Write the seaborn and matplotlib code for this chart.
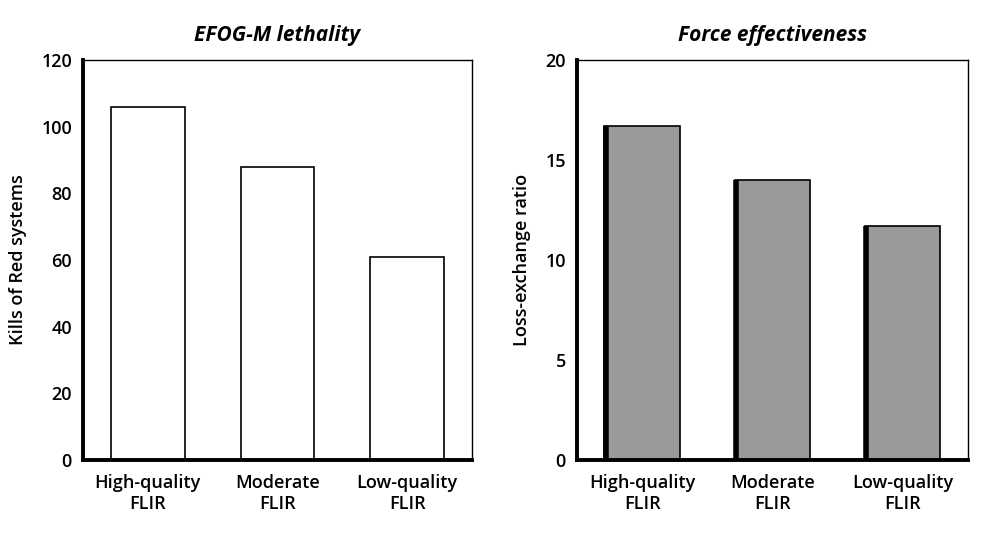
import matplotlib
matplotlib.use("Agg")
import matplotlib.pyplot as plt
import seaborn as sns
import pandas as pd

categories = ["High-quality\nFLIR", "Moderate\nFLIR", "Low-quality\nFLIR"]
kills = [106, 88, 61]
loss_exchange = [16.7, 14.0, 11.7]

sns.set_theme(style="white")
plt.rcParams["font.family"] = ["Open Sans", "DejaVu Sans"]
plt.rcParams["text.color"] = "black"
plt.rcParams["axes.labelcolor"] = "black"

fig = plt.figure(figsize=(9.97, 5.36), dpi=100)
ax1 = fig.add_axes([0.0833, 0.1418, 0.390, 0.746])
ax2 = fig.add_axes([0.5787, 0.1418, 0.392, 0.746])

df1 = pd.DataFrame({"cat": categories, "val": kills})
df2 = pd.DataFrame({"cat": categories, "val": loss_exchange})

sns.barplot(data=df1, x="cat", y="val", order=categories, color="white",
            edgecolor="black", linewidth=1.2, width=0.57, ax=ax1, saturation=1)
sns.barplot(data=df2, x="cat", y="val", order=categories, color="#9a9a9a",
            edgecolor="black", linewidth=1.2, width=0.58, ax=ax2, saturation=1)

# thick left edge on grey bars
for p in ax2.patches:
    x0 = p.get_x()
    h = p.get_height()
    ax2.plot([x0 + 0.012, x0 + 0.012], [0, h], color="black", lw=4, solid_capstyle="butt")

ax1.set_ylim(0, 120)
ax1.set_yticks([0, 20, 40, 60, 80, 100, 120])
ax2.set_ylim(0, 20)
ax2.set_yticks([0, 5, 10, 15, 20])

for ax, title, ylabel in [(ax1, "EFOG-M lethality", "Kills of Red systems"),
                          (ax2, "Force effectiveness", "Loss-exchange ratio")]:
    ax.set_xlim(-0.5, 2.5)
    ax.set_title(title, fontsize=15, fontweight="bold", style="italic", pad=14, color="black")
    ax.set_ylabel(ylabel, fontsize=13, fontweight="semibold", labelpad=10, color="black")
    ax.set_xlabel("")
    for s in ["top", "right"]:
        ax.spines[s].set_visible(True)
        ax.spines[s].set_color("black")
        ax.spines[s].set_linewidth(1.0)
    for s in ["left", "bottom"]:
        ax.spines[s].set_color("black")
        ax.spines[s].set_linewidth(2.8)
    ax.tick_params(axis="y", direction="in", length=14, width=1, color="black",
                   labelsize=13, pad=8, labelcolor="black")
    ax.tick_params(axis="x", length=0, labelsize=13, pad=10, labelcolor="black")
    for lbl in ax.get_yticklabels() + ax.get_xticklabels():
        lbl.set_fontweight("semibold")
    ax.grid(False)

fig.savefig("out.png", dpi=100, facecolor="white")
